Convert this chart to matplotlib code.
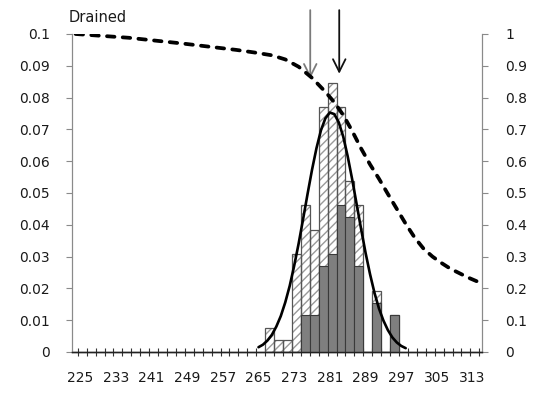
import matplotlib

matplotlib.use("Agg")

import matplotlib.pyplot as plt  # noqa: E402
from matplotlib.ticker import FixedLocator  # noqa: E402

# histogram bins (bin centre, width 2)
bin_centres = [267.5, 269.5, 271.5, 273.5, 275.5, 277.5, 279.5, 281.5,
               283.5, 285.5, 287.5, 289.5, 291.5, 293.5, 295.5]
all_density = [0.0077, 0.0038, 0.0038, 0.0308, 0.0462, 0.0385, 0.0769,
               0.0846, 0.0769, 0.0538, 0.0462, 0.0, 0.0192, 0.0, 0.0115]
drained_density = [0.0, 0.0, 0.0, 0.0, 0.0115, 0.0115, 0.0269, 0.0308,
                   0.0462, 0.0423, 0.0269, 0.0, 0.0154, 0.0, 0.0115]

# fitted normal curve (left axis)
fit_x = [265, 266, 267, 268, 269, 270, 271, 272, 273, 274, 275, 276, 277,
         278, 279, 280, 281, 282, 283, 284, 285, 286, 287, 288, 289, 290,
         291, 292, 293, 294, 295, 296, 297, 298]
fit_y = [0.0015, 0.0023, 0.0036, 0.0054, 0.0080, 0.0113, 0.0156, 0.0208,
         0.0271, 0.0341, 0.0418, 0.0497, 0.0573, 0.0641, 0.0697, 0.0735,
         0.0753, 0.0748, 0.0722, 0.0677, 0.0615, 0.0543, 0.0465, 0.0387,
         0.0312, 0.0245, 0.0186, 0.0137, 0.0099, 0.0069, 0.0046, 0.0030,
         0.0019, 0.0012]

# cumulative survival curve (right axis)
cum_x = [224, 230, 236, 242, 248, 254, 260, 264, 268, 271, 274, 277, 280,
         282, 284, 286, 288, 290, 292, 294, 296, 298, 300, 302, 304, 306,
         308, 310, 312, 314]
cum_y = [1.000, 0.994, 0.988, 0.979, 0.970, 0.960, 0.950, 0.942, 0.933,
         0.920, 0.897, 0.862, 0.818, 0.785, 0.745, 0.695, 0.640, 0.590,
         0.545, 0.497, 0.450, 0.403, 0.360, 0.325, 0.300, 0.280, 0.262,
         0.248, 0.234, 0.222]

# arrows: (x, tip y on left axis, colour)
arrow_x = [276.6, 283.1]
arrow_tip = [0.0860, 0.0875]
arrow_colors = ["#7a7a7a", "#111111"]

x_labels = [225, 233, 241, 249, 257, 265, 273, 281, 289, 297, 305, 313]

TEXT = "#1a1a1a"
AXIS = "#8a8a8a"

fig = plt.figure(figsize=(5.33, 3.98), dpi=100, facecolor="white")
ax = fig.add_axes([0.1351, 0.1156, 0.7692, 0.799])
ax2 = ax.twinx()

# hatched bars (all) – hatch layer then outline
ax.bar(bin_centres, all_density, width=2, color="white",
       edgecolor="#9a9a9a", hatch="////", linewidth=0, zorder=2)
ax.bar(bin_centres, all_density, width=2, fill=False,
       edgecolor="#555555", linewidth=0.9, zorder=3)
# solid bars (drained)
ax.bar(bin_centres, drained_density, width=2, color="#7f7f7f",
       edgecolor="#3a3a3a", linewidth=0.8, zorder=4)

ax.plot(fit_x, fit_y, color="black", linewidth=1.9, zorder=5,
        solid_capstyle="round")

ax2.plot(cum_x, cum_y, color="black", linewidth=2.7, zorder=6,
         linestyle=(0, (2.0, 2.2)), dash_capstyle="round")

for xa, tip, c in zip(arrow_x, arrow_tip, arrow_colors):
    ax.annotate("", xy=(xa, tip), xytext=(xa, 0.1075),
                arrowprops=dict(arrowstyle="->,head_length=0.9,head_width=0.45",
                                color=c, linewidth=1.3,
                                shrinkA=0, shrinkB=0),
                annotation_clip=False, zorder=7)

ax.set_xlim(223.2, 315.1)
ax.set_ylim(0, 0.1)
ax2.set_ylim(0, 1)

ax.set_xticks(x_labels)
ax.set_xticklabels([str(v) for v in x_labels])
ax.xaxis.set_minor_locator(FixedLocator([224.5 + 2 * i for i in range(46)]))
ax.tick_params(axis="x", which="major", length=0, pad=14,
               labelsize=10, labelcolor=TEXT)
ax.tick_params(axis="x", which="minor", direction="inout", length=6,
               width=0.8, color="#333333")

ax.set_yticks([i / 100 for i in range(11)])
ax.set_yticklabels(["0"] + [f"{i / 100:g}" for i in range(1, 11)])
ax.tick_params(axis="y", direction="out", length=4, width=0.8, color=AXIS,
               pad=12, labelsize=10, labelcolor=TEXT)

ax2.set_yticks([i / 10 for i in range(11)])
ax2.set_yticklabels(["0"] + [f"{i / 10:g}" for i in range(1, 11)])
ax2.tick_params(axis="y", direction="out", length=4, width=0.8, color=AXIS,
                pad=13, labelsize=10, labelcolor=TEXT)

for a in (ax, ax2):
    a.spines["top"].set_visible(False)
    a.spines["left"].set_color(AXIS)
    a.spines["right"].set_color(AXIS)
    a.spines["bottom"].set_color("#222222")
    a.spines["bottom"].set_linewidth(1.0)
ax.set_zorder(ax2.get_zorder() - 1)
ax.patch.set_visible(False)
ax2.patch.set_visible(False)

fig.text(0.128, 0.955, "Drained", fontsize=10.5, color=TEXT,
         ha="left", va="center")

fig.savefig("out.png", dpi=100, facecolor="white")
